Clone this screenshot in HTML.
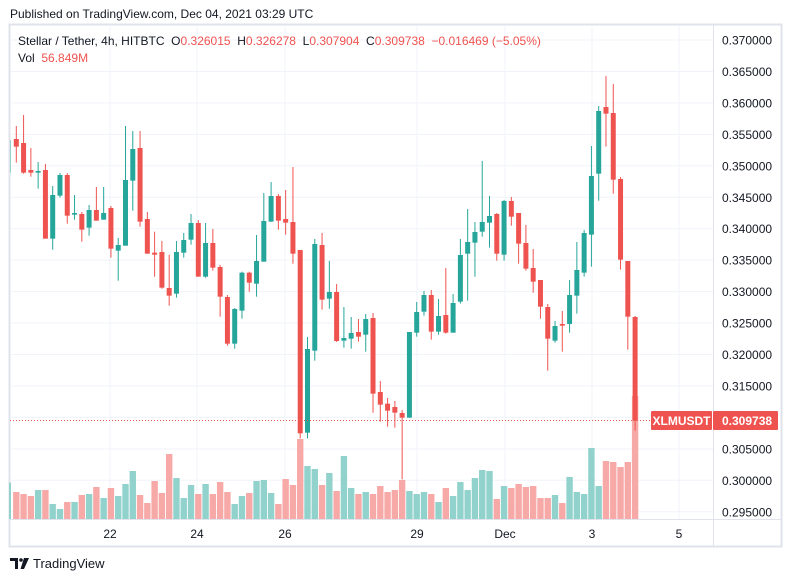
<!DOCTYPE html>
<html><head><meta charset="utf-8">
<style>
html,body{margin:0;padding:0;background:#fff;width:793px;height:582px;overflow:hidden}
body{font-family:"Liberation Sans",sans-serif;position:relative}
.t{position:absolute;white-space:nowrap}
</style></head><body>
<div class="t" style="left:10px;top:7px;font-size:12px;color:#131722">Published on TradingView.com, Dec 04, 2021 03:29 UTC</div>
<svg id="c" width="793" height="582" style="position:absolute;left:0;top:0"></svg>
<div class="t" style="left:18px;top:34px;font-size:12px;color:#131722">Stellar / Tether, 4h, HITBTC&nbsp; O<span style="color:#ef5350">0.326015</span>&nbsp; H<span style="color:#ef5350">0.326278</span>&nbsp; L<span style="color:#ef5350">0.307904</span>&nbsp; C<span style="color:#ef5350">0.309738</span>&nbsp; <span style="color:#ef5350">−0.016469 (−5.05%)</span></div>
<div class="t" style="left:18px;top:51px;font-size:12px;color:#131722">Vol&nbsp; <span style="color:#ef5350">56.849M</span></div>
<div class="t" style="left:33px;top:556px;font-size:13px;color:#131722">TradingView</div>
<script>
var R="#ef5350",G="#26a69a",RV="#f7a9a7",GV="#92d2cc";
var c=[
["r",207,230,168,278],["r",219,308,135,311],["r",300,308,234,320],["g",303,308,276,356],["r",300,506,282,506],
["g",375,506,348,539],["g",315,377,309,383],["r",315,437,309,461],["g",429,434,375,449],["r",432,479,426,515],
["g",420,473,405,497],["r",420,452,351,452],["g",429,449,351,449],["r",414,536,408,563],["g",525,542,504,632],
["g",330,527,168,527],["g",237,332,183,422],["r",234,455,183,470],["r",447,551,426,551],["r",548,554,485,620],
["r",546,653,513,656],["r",654,677,554,707],["g",546,671,513,683],["g",510,548,489,563],["g",459,509,432,524],
["r",459,620,450,620],["g",519,620,459,623],["r",519,593,477,602],["r",591,680,585,740],["r",681,821,675,827],
["g",717,821,714,836],["g",608,722,605,746],["r",608,638,605,665],["g",573,641,495,680],["g",453,575,369,575],
["g",378,455,336,455],["r",378,452,372,479],["r",447,458,360,494],["r",456,551,291,581],["r",540,1090,540,1105],
["g",837,1088,801,1105],["g",522,842,507,872],["r",525,689,489,719],["g",666,686,573,716],
["r",666,813,642,816],["g",804,812,711,833],["g",789,806,741,836],["r",786,800,747,815],["g",747,794,732,845],
["r",744,971,729,1028],["r",966,1004,933,1055],["r",1001,1022,984,1070],["r",1011,1028,993,1073],["r",1029,1043,1020,1228],
["g",786,1043,786,1043],["g",726,788,696,800],["g",675,725,663,737],["r",675,785,660,809],["g",738,785,687,794],
["r",735,788,594,791],["g",699,788,672,788],["g",555,695,507,701],["g",516,551,417,692],["g",486,518,456,620],
["g",456,485,273,500],["g",438,458,378,533],["r",432,551,429,572],["g",393,554,390,572],["r",393,440,381,467],
["r",429,521,429,581],["r",519,596,465,602],["r",594,635,537,668],["r",630,710,630,746],["r",711,806,702,902],
["g",768,812,753,818],["r",762,767,723,845],["g",675,762,630,788],["g",600,677,516,731],["g",489,608,480,620],
["g",318,494,228,590],["g",123,311,108,392],["r",111,131,18,230],["r",129,329,42,371],["r",327,569,321,599],
["r",573,740,573,839],["r",741,1052,738,1082]];
var v=[1266,1272,1278,1260,1260,1302,1317,1296,1296,1275,1272,1251,1284,1254,1278,1242,1203,1275,1299,1233,1269,1152,1224,1284,1245,1272,1242,1272,1236,1266,1302,1278,1269,1233,1230,1269,1302,1227,1245,1107,1188,1197,1245,1209,1263,1158,1254,1272,1266,1272,1248,1266,1260,1230,1263,1272,1266,1272,1296,1254,1278,1236,1260,1224,1200,1203,1287,1248,1254,1242,1251,1248,1284,1284,1275,1299,1221,1266,1272,1134,1248,1173,1176,1191,1176,978];
var s='';
s+='<rect x="9.5" y="24.5" width="772" height="522" fill="none" stroke="#e0e3eb" stroke-width="2"/>';
for(var k=0;k<16;k++){var y=40+k*31.45;s+='<line x1="10" x2="713" y1="'+y+'" y2="'+y+'" stroke="#f0f3fa"/>';
 s+='<text x="722" y="'+(y+4.5)+'" font-size="12" fill="#131722" font-family="Liberation Sans">'+(0.370-k*0.005).toFixed(6)+'</text>';}
var tl=[[110,"22"],[197,"24"],[285,"26"],[417,"29"],[505,"Dec"],[592,"3"],[679,"5"]];
tl.forEach(function(t){s+='<line x1="'+t[0]+'" x2="'+t[0]+'" y1="25" y2="519" stroke="#f0f3fa"/>';
 s+='<text x="'+t[0]+'" y="538" text-anchor="middle" font-size="12" fill="#131722" font-family="Liberation Sans">'+t[1]+'</text>';});
s+='<line x1="713.5" x2="713.5" y1="25" y2="547" stroke="#e0e3eb"/>';
s+='<line x1="10" x2="782" y1="519.5" y2="519.5" stroke="#e0e3eb"/>';
var X=function(i){return 16.3+i*7.28;};
s+='<rect x="9" y="'+(70+1238/3)+'" width="2" height="'+(519-70-1238/3)+'" fill="'+GV+'"/>';
v.forEach(function(t,i){var y=70+t/3;s+='<rect x="'+(X(i)-3.2)+'" y="'+y+'" width="6.4" height="'+(519-y)+'" fill="'+(c[i][0]=="r"?RV:GV)+'"/>';});
s+='<line x1="10.5" x2="10.5" y1="'+(70+210/3)+'" y2="'+(70+308/3)+'" stroke="'+GV+'"/>';
c.forEach(function(d,i){var x=X(i),col=d[0]=="r"?R:G;
 s+='<line x1="'+x+'" x2="'+x+'" y1="'+(70+d[3]/3)+'" y2="'+(70+d[4]/3)+'" stroke="'+col+'" stroke-width="1"/>';
 var y1=70+d[1]/3,y2=70+d[2]/3;s+='<rect x="'+(x-2.5)+'" y="'+y1+'" width="5" height="'+Math.max(1,y2-y1)+'" fill="'+col+'"/>';});
s+='<line x1="10" x2="650" y1="420.5" y2="420.5" stroke="'+R+'" stroke-dasharray="1,2"/>';
s+='<rect x="651" y="411" width="61" height="19" rx="1" fill="'+R+'"/><text x="681.5" y="425" text-anchor="middle" font-size="12" font-weight="bold" fill="#fff" font-family="Liberation Sans">XLMUSDT</text>';
s+='<rect x="713" y="411" width="65" height="19" rx="1" fill="'+R+'"/><text x="722" y="425" font-size="12" font-weight="bold" fill="#fff" font-family="Liberation Sans">0.309738</text>';
// logo
s+='<path d="M10 558h8v11h-3v-8h-5z" fill="#131722"/><circle cx="21" cy="560" r="1.8" fill="#131722"/><path d="M24 558h5l-5 11h-3.5z" fill="#131722"/>';
document.getElementById('c').innerHTML=s;
</script>
</body></html>
